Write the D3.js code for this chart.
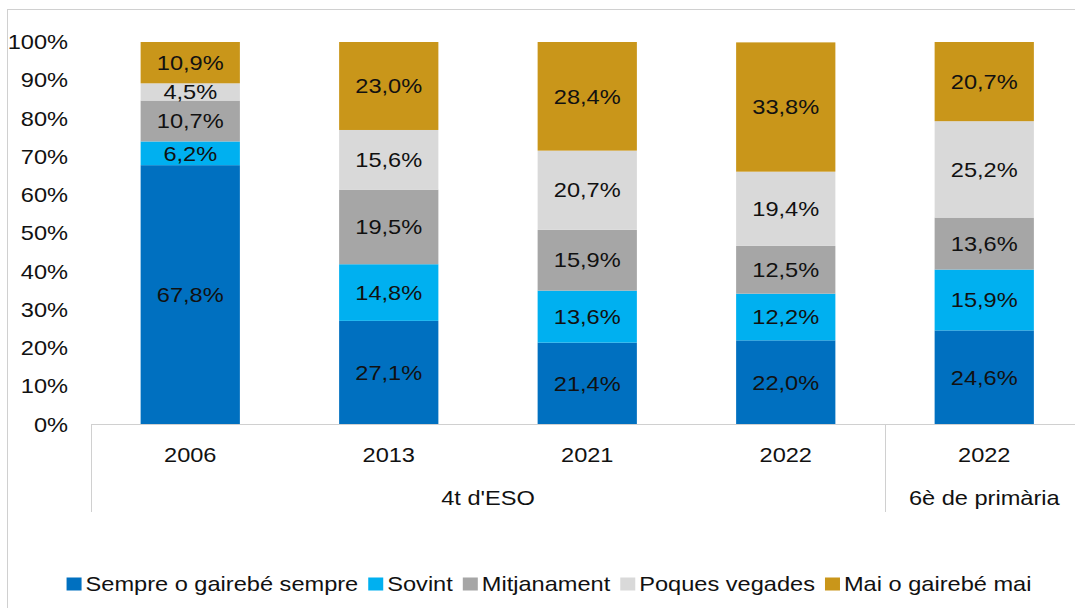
<!DOCTYPE html>
<html>
<head>
<meta charset="utf-8">
<script src="https://cdn.jsdelivr.net/npm/d3@7"></script>
<style>
  html, body { margin: 0; padding: 0; background: #fff; }
  svg { display: block; font-family: 'Liberation Sans', Arial, Helvetica, sans-serif; }
</style>
</head>
<body>
<div id="chart"></div>
<script>
const CATEGORIES = ['2006', '2013', '2021', '2022a', '2022b'];
const YEAR_LABELS = ['2006', '2013', '2021', '2022', '2022'];
const GROUPS = [
  { label: "4t d'ESO", from: 0, to: 3 },
  { label: '6è de primària', from: 4, to: 4 },
];
const SERIES = ['Sempre o gairebé sempre', 'Sovint', 'Mitjanament', 'Poques vegades', 'Mai o gairebé mai'];
const COLORS = ['#0070c0', '#00b0f0', '#a6a6a6', '#d9d9d9', '#c9961a'];

const SEMPRE = [67.8, 27.1, 21.4, 22.0, 24.6];
const SOVINT = [6.2, 14.8, 13.6, 12.2, 15.9];
const MITJANAMENT = [10.7, 19.5, 15.9, 12.5, 13.6];
const POQUES = [4.5, 15.6, 20.7, 19.4, 25.2];
const MAI = [10.9, 23.0, 28.4, 33.8, 20.7];
const Y_TICKS = [0, 10, 20, 30, 40, 50, 60, 70, 80, 90, 100];

const W = 1075, H = 608;
const FS = 20, SX = 1.18; // the source text is a little stretched sideways
const svg = d3.select('#chart').append('svg').attr('width', W).attr('height', H);

function label(sel, anchor) {
  return sel.attr('x', 0).attr('y', 0).attr('dy', '0.36em')
    .attr('text-anchor', anchor).attr('font-size', FS).attr('fill', '#111');
}
const at = (px, py) => `translate(${px},${py}) scale(${SX},1)`;

// chart frame
svg.append('rect').attr('x', 7.5).attr('y', 9.5).attr('width', 1100).attr('height', 700)
  .attr('fill', 'none').attr('stroke', '#d0d0d0').attr('stroke-width', 1);

const left = 91, step = 198.5;
const x = d3.scaleBand().domain(CATEGORIES).range([left, left + step * CATEGORIES.length]).paddingInner(0.5).paddingOuter(0.25);
const y = d3.scaleLinear().domain([0, 100]).range([424.5, 42]);

const rows = CATEGORIES.map((c, i) => ({
  cat: c,
  [SERIES[0]]: SEMPRE[i], [SERIES[1]]: SOVINT[i], [SERIES[2]]: MITJANAMENT[i],
  [SERIES[3]]: POQUES[i], [SERIES[4]]: MAI[i],
}));
const series = d3.stack().keys(SERIES)(rows);

const fmtPct = v => v.toFixed(1).replace('.', ',') + '%';
const segTop = d => y(Math.min(d[1], 100));

const layer = svg.selectAll('.layer').data(series).enter().append('g')
  .attr('fill', (d, i) => COLORS[i]);
layer.selectAll('rect').data(d => d).enter().append('rect')
  .attr('x', d => x(d.data.cat))
  .attr('y', segTop)
  .attr('width', x.bandwidth())
  .attr('height', d => y(d[0]) - segTop(d));

series.forEach(s => {
  label(svg.selectAll(null).data(s).enter().append('text'), 'middle')
    .attr('transform', d => at(x(d.data.cat) + x.bandwidth() / 2, (y(d[0]) + segTop(d)) / 2))
    .text(d => fmtPct(d.data[s.key]));
});

// y axis labels
label(svg.selectAll('.ytick').data(Y_TICKS).enter().append('text'), 'end')
  .attr('transform', d => at(68, y(d)))
  .text(d => d + '%');

// x axis baseline and group dividers
const xEnd = left + step * CATEGORIES.length;
svg.append('line').attr('x1', left).attr('x2', xEnd).attr('y1', 424.5).attr('y2', 424.5)
  .attr('stroke', '#d0d0d0');
const dividers = [left, left + step * 4, xEnd];
svg.selectAll('.div').data(dividers).enter().append('line')
  .attr('x1', d => d + 0.5).attr('x2', d => d + 0.5).attr('y1', 424.5).attr('y2', 512)
  .attr('stroke', '#d0d0d0');

label(svg.selectAll('.year').data(CATEGORIES).enter().append('text'), 'middle')
  .attr('transform', d => at(x(d) + x.bandwidth() / 2, 455))
  .text((d, i) => YEAR_LABELS[i]);

label(svg.selectAll('.group').data(GROUPS).enter().append('text'), 'middle')
  .attr('transform', d => at((x(CATEGORIES[d.from]) + x(CATEGORIES[d.to]) + x.bandwidth()) / 2, 498))
  .text(d => d.label);

// legend
const lg = svg.append('g');
let lx = 0;
SERIES.forEach((s, i) => {
  const g = lg.append('g').attr('transform', `translate(${lx},0)`);
  g.append('rect').attr('x', 0).attr('y', -6.5).attr('width', 15).attr('height', 13).attr('fill', COLORS[i]);
  const t = label(g.append('text'), 'start').attr('transform', at(19, 0)).text(s);
  lx += 19 + t.node().getComputedTextLength() * SX + 10;
});
lg.attr('transform', `translate(${549 - (lx - 10) / 2},584)`);
</script>
</body>
</html>
